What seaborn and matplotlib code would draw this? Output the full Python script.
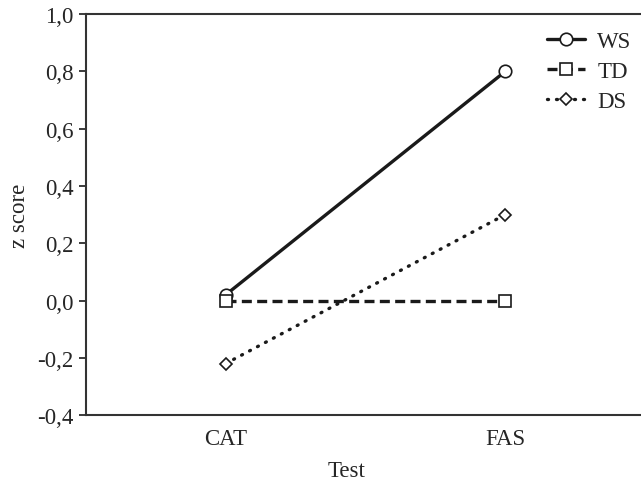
import matplotlib
matplotlib.use("Agg")
import matplotlib.pyplot as plt
import seaborn as sns
import pandas as pd

tests = ["CAT", "FAS"]
ws = [0.02, 0.80]
td = [0.00, 0.00]
ds = [-0.22, 0.30]
groups = ["WS", "TD", "DS"]
yticks = [-0.4, -0.2, 0.0, 0.2, 0.4, 0.6, 0.8, 1.0]
ytick_labels = ["-0,4", "-0,2", "0,0", "0,2", "0,4", "0,6", "0,8", "1,0"]

df = pd.DataFrame({
    "Test": tests * 3,
    "z": ws + td + ds,
    "Group": [g for g in groups for _ in tests],
})

sns.set_style("white")
plt.rcParams["font.family"] = ["Liberation Serif", "DejaVu Serif"]
FS = 16.5
plt.rcParams["font.size"] = FS

fig = plt.figure(figsize=(6.41, 4.85), dpi=100)
ax = fig.add_axes([0.134, 0.142, 0.866, 0.827])

ink = "#1a1a1a"
sns.lineplot(
    data=df, x="Test", y="z", hue="Group", style="Group",
    palette={g: ink for g in groups},
    dashes={"WS": "", "TD": (3, 1.6), "DS": (0.3, 2.4)},
    markers={"WS": "o", "TD": "s", "DS": "D"},
    markerfacecolor="white", markeredgecolor=ink, markeredgewidth=1.2,
    linewidth=2.4, legend=False, ax=ax, sort=False,
)
sizes = {"WS": 9, "TD": 9, "DS": 6}
lines = ax.get_lines()[:3]
for ln, g in zip(lines, groups):
    ln.set_markersize(sizes[g])
    ln.set_dash_capstyle("round" if g == "DS" else "butt")

ax.set_xlim(-0.5, 1.485)
ax.set_ylim(-0.4, 1.0)
ax.set_yticks(yticks)
ax.set_yticklabels(ytick_labels)
ax.tick_params(axis="y", direction="out", length=5, width=1.2, color=ink, left=True, pad=4, labelsize=FS)
ax.tick_params(axis="x", length=0, pad=9, labelsize=FS)
for s in ["left", "top", "bottom"]:
    ax.spines[s].set_color("#333333")
    ax.spines[s].set_linewidth(1.5)
ax.spines["right"].set_visible(False)

ax.set_xlabel("Test", fontsize=FS)
ax.set_ylabel("z score", fontsize=FS)
ax.xaxis.set_label_coords(0.47, -0.112)
ax.yaxis.set_label_coords(-0.1, 0.5)

ax.legend(lines, groups, loc="upper right", bbox_to_anchor=(1.008, 0.992), frameon=False,
          handlelength=1.65, handletextpad=0.55, labelspacing=0.4, fontsize=FS,
          borderaxespad=0.2)

fig.savefig("out.png", dpi=100)
